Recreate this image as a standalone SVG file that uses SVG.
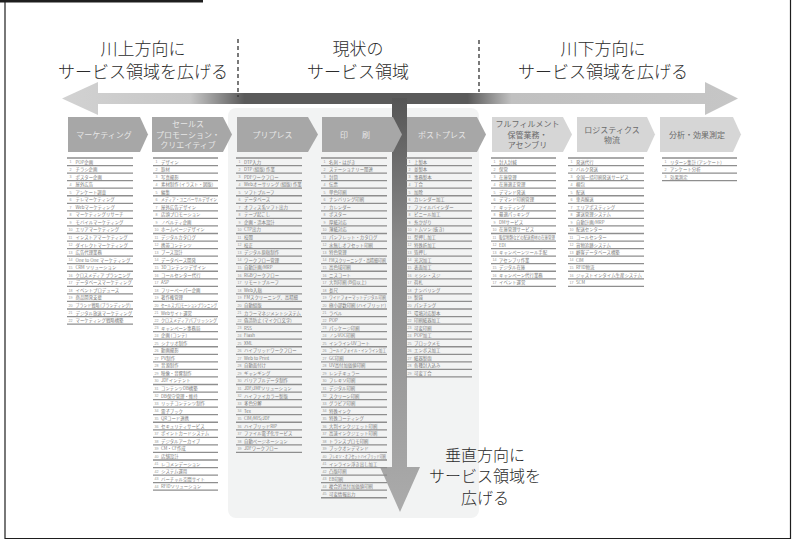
<svg xmlns="http://www.w3.org/2000/svg" width="796" height="541" viewBox="0 0 796 541">
<style>
.hd{font-family:"Noto Sans CJK JP","Noto Sans",sans-serif;font-size:17px;font-weight:300;fill:#2b2b2b;text-anchor:middle}
.hv{font-size:16px}
.chd{fill:#a7a7a7}
.chl{fill:#d6d6d6}
.ctd{font-family:"Noto Sans CJK JP","Noto Sans",sans-serif;font-size:8px;fill:#e6e6e6;text-anchor:middle}
.ctl{font-family:"Noto Sans CJK JP","Noto Sans",sans-serif;font-size:8px;fill:#6a6a6a;text-anchor:middle}
.it{font-family:"Noto Sans CJK JP","Noto Sans",sans-serif;font-size:4.4px;fill:#7a7a7a}
.nm{font-family:"Liberation Sans",sans-serif;font-size:3.6px;fill:#9a9a9a}
.rl{stroke:#8e8e8e;stroke-width:1.3;fill:none}
</style>
<defs>
<linearGradient id="hg" gradientUnits="userSpaceOnUse" x1="62" y1="0" x2="738" y2="0">
<stop offset="0" stop-color="#d2d2d2"/>
<stop offset="0.19" stop-color="#c6c6c6"/>
<stop offset="0.27" stop-color="#5a5a5a"/>
<stop offset="0.60" stop-color="#5a5a5a"/>
<stop offset="0.665" stop-color="#c0c0c0"/>
<stop offset="1" stop-color="#c6c6c6"/>
</linearGradient>
<linearGradient id="vg" gradientUnits="userSpaceOnUse" x1="0" y1="98" x2="0" y2="512">
<stop offset="0" stop-color="#555555"/>
<stop offset="0.35" stop-color="#8a8a8a"/>
<stop offset="1" stop-color="#ababab"/>
</linearGradient>
</defs>
<rect width="796" height="541" fill="#ffffff"/>
<g id="frame" fill="none" stroke="#1e1e1e">
<path d="M0 1.2H203" stroke-width="2.4"/>
<path d="M5 0V538.5H790.5V0" stroke-width="1.2"/>
</g>
<rect id="current-area" x="228" y="108" width="251" height="410" rx="8" fill="#f2f3f3"/>
<g id="connectors">
<path id="h-arrow" d="M62 98.5L98 82V93H705V82L738 98.5L705 115V104H98V115Z" fill="url(#hg)"/>
<path id="v-arrow" d="M392 98H407V467H420L400 512L380 467H392Z" fill="url(#vg)"/>
<path d="M238 39V97M479 40V92" stroke="#333" stroke-width="1.3" stroke-dasharray="4 3" fill="none"/>
</g>
<g id="label-upstream">
<text class="hd" x="143" y="54.5">川上方向に</text>
<text class="hd" x="143" y="77.5">サービス領域を広げる</text>
</g>
<g id="label-current">
<text class="hd" x="358" y="54.5">現状の</text>
<text class="hd" x="358" y="77.5">サービス領域</text>
</g>
<g id="label-downstream">
<text class="hd" x="603" y="54.5">川下方向に</text>
<text class="hd" x="603" y="77.5">サービス領域を広げる</text>
</g>
<g id="label-vertical">
<text class="hd hv" x="485" y="460.5">垂直方向に</text>
<text class="hd hv" x="485" y="482.2">サービス領域を</text>
<text class="hd hv" x="485" y="503.9">広げる</text>
</g>
<g id="col-marketing">
<path class="chd" d="M68 117H140L148 134.5L140 152H68Z"/>
<text class="ctd" x="104" y="137.5">マーケティング</text>
<path class="rl" d="M67 158h66M67 165.55h66M67 173.1h66M67 180.65h66M67 188.2h66M67 195.75h66M67 203.3h66M67 210.85h66M67 218.4h66M67 225.95h66M67 233.5h66M67 241.05h66M67 248.6h66M67 256.15h66M67 263.7h66M67 271.25h66M67 278.8h66M67 286.35h66M67 293.9h66M67 301.45h66M67 309h66M67 316.55h66M67 324.1h66"/>
<text class="nm"><tspan x="69.5" y="163.3">1</tspan><tspan x="69.5" dy="7.55">2</tspan><tspan x="69.5" dy="7.55">3</tspan><tspan x="69.5" dy="7.55">4</tspan><tspan x="69.5" dy="7.55">5</tspan><tspan x="69.5" dy="7.55">6</tspan><tspan x="69.5" dy="7.55">7</tspan><tspan x="69.5" dy="7.55">8</tspan><tspan x="69.5" dy="7.55">9</tspan><tspan x="68.5" dy="7.55">10</tspan><tspan x="68.5" dy="7.55">11</tspan><tspan x="68.5" dy="7.55">12</tspan><tspan x="68.5" dy="7.55">13</tspan><tspan x="68.5" dy="7.55">14</tspan><tspan x="68.5" dy="7.55">15</tspan><tspan x="68.5" dy="7.55">16</tspan><tspan x="68.5" dy="7.55">17</tspan><tspan x="68.5" dy="7.55">18</tspan><tspan x="68.5" dy="7.55">19</tspan><tspan x="68.5" dy="7.55">20</tspan><tspan x="68.5" dy="7.55">21</tspan><tspan x="68.5" dy="7.55">22</tspan></text>
<text class="it"><tspan x="75.5" y="163.5">POP企画</tspan><tspan x="75.5" dy="7.55">チラシ企画</tspan><tspan x="75.5" dy="7.55">ポスター企画</tspan><tspan x="75.5" dy="7.55">屋外広告</tspan><tspan x="75.5" dy="7.55">アンケート調査</tspan><tspan x="75.5" dy="7.55">テレマーケティング</tspan><tspan x="75.5" dy="7.55">Webマーケティング</tspan><tspan x="75.5" dy="7.55">マーケティングリサーチ</tspan><tspan x="75.5" dy="7.55">モバイルマーケティング</tspan><tspan x="75.5" dy="7.55">エリアマーケティング</tspan><tspan x="75.5" dy="7.55">インストアマーケティング</tspan><tspan x="75.5" dy="7.55">ダイレクトマーケティング</tspan><tspan x="75.5" dy="7.55">広告代理業務</tspan><tspan x="75.5" dy="7.55" textLength="55" lengthAdjust="spacingAndGlyphs">One to One マーケティング</tspan><tspan x="75.5" dy="7.55">CRM ソリューション</tspan><tspan x="75.5" dy="7.55" textLength="55" lengthAdjust="spacingAndGlyphs">クロスメディア プランニング</tspan><tspan x="75.5" dy="7.55">データベースマーケティング</tspan><tspan x="75.5" dy="7.55">イベントプロデュース</tspan><tspan x="75.5" dy="7.55">商品開発支援</tspan><tspan x="75.5" dy="7.55" textLength="55" lengthAdjust="spacingAndGlyphs">ブランド戦略 (ブランディング)</tspan><tspan x="75.5" dy="7.55">デジタル放送マーケティング</tspan><tspan x="75.5" dy="7.55">マーケティング戦略構築</tspan></text>
</g>
<g id="col-sales-promotion">
<path class="chd" d="M152 117H223L232 134.5L223 152H152Z"/>
<text class="ctd" x="188" y="127">セールス</text>
<text class="ctd" x="188" y="137.5">プロモーション・</text>
<text class="ctd" x="188" y="148">クリエイティブ</text>
<path class="rl" d="M153 158h65M153 165.55h65M153 173.1h65M153 180.65h65M153 188.2h65M153 195.75h65M153 203.3h65M153 210.85h65M153 218.4h65M153 225.95h65M153 233.5h65M153 241.05h65M153 248.6h65M153 256.15h65M153 263.7h65M153 271.25h65M153 278.8h65M153 286.35h65M153 293.9h65M153 301.45h65M153 309h65M153 316.55h65M153 324.1h65M153 331.65h65M153 339.2h65M153 346.75h65M153 354.3h65M153 361.85h65M153 369.4h65M153 376.95h65M153 384.5h65M153 392.05h65M153 399.6h65M153 407.15h65M153 414.7h65M153 422.25h65M153 429.8h65M153 437.35h65M153 444.9h65M153 452.45h65M153 460h65M153 467.55h65M153 475.1h65M153 482.65h65M153 490.2h65"/>
<text class="nm"><tspan x="155.5" y="163.3">1</tspan><tspan x="155.5" dy="7.55">2</tspan><tspan x="155.5" dy="7.55">3</tspan><tspan x="155.5" dy="7.55">4</tspan><tspan x="155.5" dy="7.55">5</tspan><tspan x="155.5" dy="7.55">6</tspan><tspan x="155.5" dy="7.55">7</tspan><tspan x="155.5" dy="7.55">8</tspan><tspan x="155.5" dy="7.55">9</tspan><tspan x="154.5" dy="7.55">10</tspan><tspan x="154.5" dy="7.55">11</tspan><tspan x="154.5" dy="7.55">12</tspan><tspan x="154.5" dy="7.55">13</tspan><tspan x="154.5" dy="7.55">14</tspan><tspan x="154.5" dy="7.55">15</tspan><tspan x="154.5" dy="7.55">16</tspan><tspan x="154.5" dy="7.55">17</tspan><tspan x="154.5" dy="7.55">18</tspan><tspan x="154.5" dy="7.55">19</tspan><tspan x="154.5" dy="7.55">20</tspan><tspan x="154.5" dy="7.55">21</tspan><tspan x="154.5" dy="7.55">22</tspan><tspan x="154.5" dy="7.55">23</tspan><tspan x="154.5" dy="7.55">24</tspan><tspan x="154.5" dy="7.55">25</tspan><tspan x="154.5" dy="7.55">26</tspan><tspan x="154.5" dy="7.55">27</tspan><tspan x="154.5" dy="7.55">28</tspan><tspan x="154.5" dy="7.55">29</tspan><tspan x="154.5" dy="7.55">30</tspan><tspan x="154.5" dy="7.55">31</tspan><tspan x="154.5" dy="7.55">32</tspan><tspan x="154.5" dy="7.55">33</tspan><tspan x="154.5" dy="7.55">34</tspan><tspan x="154.5" dy="7.55">35</tspan><tspan x="154.5" dy="7.55">36</tspan><tspan x="154.5" dy="7.55">37</tspan><tspan x="154.5" dy="7.55">38</tspan><tspan x="154.5" dy="7.55">39</tspan><tspan x="154.5" dy="7.55">40</tspan><tspan x="154.5" dy="7.55">41</tspan><tspan x="154.5" dy="7.55">42</tspan><tspan x="154.5" dy="7.55">43</tspan><tspan x="154.5" dy="7.55">44</tspan></text>
<text class="it"><tspan x="161" y="163.5">デザイン</tspan><tspan x="161" dy="7.55">取材</tspan><tspan x="161" dy="7.55">写真撮影</tspan><tspan x="161" dy="7.55">素材制作 (イラスト・図版)</tspan><tspan x="161" dy="7.55">編集</tspan><tspan x="161" dy="7.55" textLength="56" lengthAdjust="spacingAndGlyphs">メディア・ユニバーサルデザイン</tspan><tspan x="161" dy="7.55">屋外広告デザイン</tspan><tspan x="161" dy="7.55">店頭プロモーション</tspan><tspan x="161" dy="7.55">ノベルティ企画</tspan><tspan x="161" dy="7.55">ホームページデザイン</tspan><tspan x="161" dy="7.55">デジタルカタログ</tspan><tspan x="161" dy="7.55">携帯コンテンツ</tspan><tspan x="161" dy="7.55">ブース設計</tspan><tspan x="161" dy="7.55">データベース開発</tspan><tspan x="161" dy="7.55">3Dコンテンツデザイン</tspan><tspan x="161" dy="7.55">コールセンター代行</tspan><tspan x="161" dy="7.55">ASP</tspan><tspan x="161" dy="7.55">フリーペーパー企画</tspan><tspan x="161" dy="7.55">著作権管理</tspan><tspan x="161" dy="7.55" textLength="56" lengthAdjust="spacingAndGlyphs">セールスプロモーションプランニング</tspan><tspan x="161" dy="7.55">Webサイト運営</tspan><tspan x="161" dy="7.55" textLength="56" lengthAdjust="spacingAndGlyphs">クロスメディアパブリッシング</tspan><tspan x="161" dy="7.55">キャンペーン事務局</tspan><tspan x="161" dy="7.55">企画 (コンテ)</tspan><tspan x="161" dy="7.55">シナリオ制作</tspan><tspan x="161" dy="7.55">動画撮影</tspan><tspan x="161" dy="7.55">PV制作</tspan><tspan x="161" dy="7.55">音源制作</tspan><tspan x="161" dy="7.55">映像・音響制作</tspan><tspan x="161" dy="7.55">JDFインテント</tspan><tspan x="161" dy="7.55">コンテンツDB構築</tspan><tspan x="161" dy="7.55">DB保守管理・維持</tspan><tspan x="161" dy="7.55">リッチコンテンツ制作</tspan><tspan x="161" dy="7.55">電子ブック</tspan><tspan x="161" dy="7.55">QRコード連携</tspan><tspan x="161" dy="7.55">セキュリティサービス</tspan><tspan x="161" dy="7.55">ポイントカードシステム</tspan><tspan x="161" dy="7.55">デジタルアーカイブ</tspan><tspan x="161" dy="7.55">CM・CF作成</tspan><tspan x="161" dy="7.55">店舗設計</tspan><tspan x="161" dy="7.55">レコメンデーション</tspan><tspan x="161" dy="7.55">システム運用</tspan><tspan x="161" dy="7.55">バーチャル空間サイト</tspan><tspan x="161" dy="7.55">RFIDソリューション</tspan></text>
</g>
<g id="col-prepress">
<path class="chd" d="M237 117H308L318 134.5L308 152H237Z"/>
<text class="ctd" x="272.5" y="137.5">プリプレス</text>
<path class="rl" d="M236 158h66M236 165.55h66M236 173.1h66M236 180.65h66M236 188.2h66M236 195.75h66M236 203.3h66M236 210.85h66M236 218.4h66M236 225.95h66M236 233.5h66M236 241.05h66M236 248.6h66M236 256.15h66M236 263.7h66M236 271.25h66M236 278.8h66M236 286.35h66M236 293.9h66M236 301.45h66M236 309h66M236 316.55h66M236 324.1h66M236 331.65h66M236 339.2h66M236 346.75h66M236 354.3h66M236 361.85h66M236 369.4h66M236 376.95h66M236 384.5h66M236 392.05h66M236 399.6h66M236 407.15h66M236 414.7h66M236 422.25h66M236 429.8h66M236 437.35h66M236 444.9h66M236 452.45h66"/>
<text class="nm"><tspan x="238.5" y="163.3">1</tspan><tspan x="238.5" dy="7.55">2</tspan><tspan x="238.5" dy="7.55">3</tspan><tspan x="238.5" dy="7.55">4</tspan><tspan x="238.5" dy="7.55">5</tspan><tspan x="238.5" dy="7.55">6</tspan><tspan x="238.5" dy="7.55">7</tspan><tspan x="238.5" dy="7.55">8</tspan><tspan x="238.5" dy="7.55">9</tspan><tspan x="237.5" dy="7.55">10</tspan><tspan x="237.5" dy="7.55">11</tspan><tspan x="237.5" dy="7.55">12</tspan><tspan x="237.5" dy="7.55">13</tspan><tspan x="237.5" dy="7.55">14</tspan><tspan x="237.5" dy="7.55">15</tspan><tspan x="237.5" dy="7.55">16</tspan><tspan x="237.5" dy="7.55">17</tspan><tspan x="237.5" dy="7.55">18</tspan><tspan x="237.5" dy="7.55">19</tspan><tspan x="237.5" dy="7.55">20</tspan><tspan x="237.5" dy="7.55">21</tspan><tspan x="237.5" dy="7.55">22</tspan><tspan x="237.5" dy="7.55">23</tspan><tspan x="237.5" dy="7.55">24</tspan><tspan x="237.5" dy="7.55">25</tspan><tspan x="237.5" dy="7.55">26</tspan><tspan x="237.5" dy="7.55">27</tspan><tspan x="237.5" dy="7.55">28</tspan><tspan x="237.5" dy="7.55">29</tspan><tspan x="237.5" dy="7.55">30</tspan><tspan x="237.5" dy="7.55">31</tspan><tspan x="237.5" dy="7.55">32</tspan><tspan x="237.5" dy="7.55">33</tspan><tspan x="237.5" dy="7.55">34</tspan><tspan x="237.5" dy="7.55">35</tspan><tspan x="237.5" dy="7.55">36</tspan><tspan x="237.5" dy="7.55">37</tspan><tspan x="237.5" dy="7.55">38</tspan><tspan x="237.5" dy="7.55">39</tspan></text>
<text class="it"><tspan x="244" y="163.5">DTP入力</tspan><tspan x="244" dy="7.55">DTP (組版) 作業</tspan><tspan x="244" dy="7.55">PDFワークフロー</tspan><tspan x="244" dy="7.55">Webオーサリング (組版) 作業</tspan><tspan x="244" dy="7.55">ソフトプルーフ</tspan><tspan x="244" dy="7.55">データベース</tspan><tspan x="244" dy="7.55">オフィス系ソフト出力</tspan><tspan x="244" dy="7.55">テープ起こし</tspan><tspan x="244" dy="7.55">企画・造本設計</tspan><tspan x="244" dy="7.55">CTP出力</tspan><tspan x="244" dy="7.55">校閲</tspan><tspan x="244" dy="7.55">校正</tspan><tspan x="244" dy="7.55">デジタル原稿制作</tspan><tspan x="244" dy="7.55">ワークフロー管理</tspan><tspan x="244" dy="7.55">自動計画/MRP</tspan><tspan x="244" dy="7.55">RGBワークフロー</tspan><tspan x="244" dy="7.55">リモートプルーフ</tspan><tspan x="244" dy="7.55">Web入稿</tspan><tspan x="244" dy="7.55">FMスクリーニング、高精細</tspan><tspan x="244" dy="7.55">自動組版</tspan><tspan x="244" dy="7.55">カラーマネジメントシステム</tspan><tspan x="244" dy="7.55">偽造防止 (マイクロ文字)</tspan><tspan x="244" dy="7.55">RSS</tspan><tspan x="244" dy="7.55">Flash</tspan><tspan x="244" dy="7.55">XML</tspan><tspan x="244" dy="7.55">ハイブリッドワークフロー</tspan><tspan x="244" dy="7.55">Web to Print</tspan><tspan x="244" dy="7.55">自動面付け</tspan><tspan x="244" dy="7.55">ギャンギング</tspan><tspan x="244" dy="7.55">バリアブルデータ制作</tspan><tspan x="244" dy="7.55">JDF/JMFソリューション</tspan><tspan x="244" dy="7.55">ハイファイカラー製版</tspan><tspan x="244" dy="7.55">多色分解</tspan><tspan x="244" dy="7.55">Tex</tspan><tspan x="244" dy="7.55">CIM/MIS/JDF</tspan><tspan x="244" dy="7.55">ハイブリッドRIP</tspan><tspan x="244" dy="7.55">ファイル電子化サービス</tspan><tspan x="244" dy="7.55">自動ページネーション</tspan><tspan x="244" dy="7.55">JDFワークフロー</tspan></text>
</g>
<g id="col-printing">
<path class="chd" d="M322 117H393L402 134.5L393 152H322Z"/>
<text class="ctd" x="344" y="137.5">印</text>
<text class="ctd" x="366" y="137.5">刷</text>
<path class="rl" d="M321 158h66M321 165.55h66M321 173.1h66M321 180.65h66M321 188.2h66M321 195.75h66M321 203.3h66M321 210.85h66M321 218.4h66M321 225.95h66M321 233.5h66M321 241.05h66M321 248.6h66M321 256.15h66M321 263.7h66M321 271.25h66M321 278.8h66M321 286.35h66M321 293.9h66M321 301.45h66M321 309h66M321 316.55h66M321 324.1h66M321 331.65h66M321 339.2h66M321 346.75h66M321 354.3h66M321 361.85h66M321 369.4h66M321 376.95h66M321 384.5h66M321 392.05h66M321 399.6h66M321 407.15h66M321 414.7h66M321 422.25h66M321 429.8h66M321 437.35h66M321 444.9h66M321 452.45h66M321 460h66M321 467.55h66M321 475.1h66M321 482.65h66M321 490.2h66M321 497.75h66"/>
<text class="nm"><tspan x="323.5" y="163.3">1</tspan><tspan x="323.5" dy="7.55">2</tspan><tspan x="323.5" dy="7.55">3</tspan><tspan x="323.5" dy="7.55">4</tspan><tspan x="323.5" dy="7.55">5</tspan><tspan x="323.5" dy="7.55">6</tspan><tspan x="323.5" dy="7.55">7</tspan><tspan x="323.5" dy="7.55">8</tspan><tspan x="323.5" dy="7.55">9</tspan><tspan x="322.5" dy="7.55">10</tspan><tspan x="322.5" dy="7.55">11</tspan><tspan x="322.5" dy="7.55">12</tspan><tspan x="322.5" dy="7.55">13</tspan><tspan x="322.5" dy="7.55">14</tspan><tspan x="322.5" dy="7.55">15</tspan><tspan x="322.5" dy="7.55">16</tspan><tspan x="322.5" dy="7.55">17</tspan><tspan x="322.5" dy="7.55">18</tspan><tspan x="322.5" dy="7.55">19</tspan><tspan x="322.5" dy="7.55">20</tspan><tspan x="322.5" dy="7.55">21</tspan><tspan x="322.5" dy="7.55">22</tspan><tspan x="322.5" dy="7.55">23</tspan><tspan x="322.5" dy="7.55">24</tspan><tspan x="322.5" dy="7.55">25</tspan><tspan x="322.5" dy="7.55">26</tspan><tspan x="322.5" dy="7.55">27</tspan><tspan x="322.5" dy="7.55">28</tspan><tspan x="322.5" dy="7.55">29</tspan><tspan x="322.5" dy="7.55">30</tspan><tspan x="322.5" dy="7.55">31</tspan><tspan x="322.5" dy="7.55">32</tspan><tspan x="322.5" dy="7.55">33</tspan><tspan x="322.5" dy="7.55">34</tspan><tspan x="322.5" dy="7.55">35</tspan><tspan x="322.5" dy="7.55">36</tspan><tspan x="322.5" dy="7.55">37</tspan><tspan x="322.5" dy="7.55">38</tspan><tspan x="322.5" dy="7.55">39</tspan><tspan x="322.5" dy="7.55">40</tspan><tspan x="322.5" dy="7.55">41</tspan><tspan x="322.5" dy="7.55">42</tspan><tspan x="322.5" dy="7.55">43</tspan><tspan x="322.5" dy="7.55">44</tspan><tspan x="322.5" dy="7.55">45</tspan></text>
<text class="it"><tspan x="329" y="163.5">名刺・はがき</tspan><tspan x="329" dy="7.55">ステーショナリー関連</tspan><tspan x="329" dy="7.55">封筒</tspan><tspan x="329" dy="7.55">伝票</tspan><tspan x="329" dy="7.55">単色印刷</tspan><tspan x="329" dy="7.55">ナンバリング印刷</tspan><tspan x="329" dy="7.55">カレンダー</tspan><tspan x="329" dy="7.55">ポスター</tspan><tspan x="329" dy="7.55">厚紙対応</tspan><tspan x="329" dy="7.55">薄紙対応</tspan><tspan x="329" dy="7.55">パンフレット・カタログ</tspan><tspan x="329" dy="7.55">水無しオフセット印刷</tspan><tspan x="329" dy="7.55">特色管理</tspan><tspan x="329" dy="7.55" textLength="57" lengthAdjust="spacingAndGlyphs">FMスクリーニング・高精細印刷</tspan><tspan x="329" dy="7.55">高色域印刷</tspan><tspan x="329" dy="7.55">ニスコート</tspan><tspan x="329" dy="7.55">大判印刷 (B倍以上)</tspan><tspan x="329" dy="7.55">長尺</tspan><tspan x="329" dy="7.55" textLength="57" lengthAdjust="spacingAndGlyphs">ワイドフォーマットデジタル印刷</tspan><tspan x="329" dy="7.55" textLength="57" lengthAdjust="spacingAndGlyphs">極小部数印刷 (ハイブリッド)</tspan><tspan x="329" dy="7.55">ラベル</tspan><tspan x="329" dy="7.55">POP</tspan><tspan x="329" dy="7.55">パッケージ印刷</tspan><tspan x="329" dy="7.55">ノンVOC印刷</tspan><tspan x="329" dy="7.55">インラインUVコート</tspan><tspan x="329" dy="7.55" textLength="57" lengthAdjust="spacingAndGlyphs">コールドフォイル・インライン加工</tspan><tspan x="329" dy="7.55">GC印刷</tspan><tspan x="329" dy="7.55">UV高付加価値印刷</tspan><tspan x="329" dy="7.55">レンチキュラー</tspan><tspan x="329" dy="7.55">フレキソ印刷</tspan><tspan x="329" dy="7.55">デジタル印刷</tspan><tspan x="329" dy="7.55">スクリーン印刷</tspan><tspan x="329" dy="7.55">グラビア印刷</tspan><tspan x="329" dy="7.55">特殊インク</tspan><tspan x="329" dy="7.55">特殊コーティング</tspan><tspan x="329" dy="7.55">大判インクジェット印刷</tspan><tspan x="329" dy="7.55">高速インクジェット印刷</tspan><tspan x="329" dy="7.55">トランスプロモ印刷</tspan><tspan x="329" dy="7.55">ブックオンデマンド</tspan><tspan x="329" dy="7.55" textLength="57" lengthAdjust="spacingAndGlyphs">フレキソ・オフセットハイブリッド印刷</tspan><tspan x="329" dy="7.55">インライン浮き出し加工</tspan><tspan x="329" dy="7.55">凸版印刷</tspan><tspan x="329" dy="7.55">EB印刷</tspan><tspan x="329" dy="7.55">複合的高付加価値印刷</tspan><tspan x="329" dy="7.55">可変情報出力</tspan></text>
</g>
<g id="col-postpress">
<path class="chd" d="M407 117H477L486 134.5L477 152H407Z"/>
<text class="ctd" x="442" y="137.5">ポストプレス</text>
<path class="rl" d="M406 158h66M406 165.55h66M406 173.1h66M406 180.65h66M406 188.2h66M406 195.75h66M406 203.3h66M406 210.85h66M406 218.4h66M406 225.95h66M406 233.5h66M406 241.05h66M406 248.6h66M406 256.15h66M406 263.7h66M406 271.25h66M406 278.8h66M406 286.35h66M406 293.9h66M406 301.45h66M406 309h66M406 316.55h66M406 324.1h66M406 331.65h66M406 339.2h66M406 346.75h66M406 354.3h66M406 361.85h66M406 369.4h66M406 376.95h66"/>
<text class="nm"><tspan x="408.5" y="163.3">1</tspan><tspan x="408.5" dy="7.55">2</tspan><tspan x="408.5" dy="7.55">3</tspan><tspan x="408.5" dy="7.55">4</tspan><tspan x="408.5" dy="7.55">5</tspan><tspan x="408.5" dy="7.55">6</tspan><tspan x="408.5" dy="7.55">7</tspan><tspan x="408.5" dy="7.55">8</tspan><tspan x="408.5" dy="7.55">9</tspan><tspan x="407.5" dy="7.55">10</tspan><tspan x="407.5" dy="7.55">11</tspan><tspan x="407.5" dy="7.55">12</tspan><tspan x="407.5" dy="7.55">13</tspan><tspan x="407.5" dy="7.55">14</tspan><tspan x="407.5" dy="7.55">15</tspan><tspan x="407.5" dy="7.55">16</tspan><tspan x="407.5" dy="7.55">17</tspan><tspan x="407.5" dy="7.55">18</tspan><tspan x="407.5" dy="7.55">19</tspan><tspan x="407.5" dy="7.55">20</tspan><tspan x="407.5" dy="7.55">21</tspan><tspan x="407.5" dy="7.55">22</tspan><tspan x="407.5" dy="7.55">23</tspan><tspan x="407.5" dy="7.55">24</tspan><tspan x="407.5" dy="7.55">25</tspan><tspan x="407.5" dy="7.55">26</tspan><tspan x="407.5" dy="7.55">27</tspan><tspan x="407.5" dy="7.55">28</tspan><tspan x="407.5" dy="7.55">29</tspan></text>
<text class="it"><tspan x="414" y="163.5">上製本</tspan><tspan x="414" dy="7.55">並製本</tspan><tspan x="414" dy="7.55">事務製本</tspan><tspan x="414" dy="7.55">丁合</tspan><tspan x="414" dy="7.55">加除</tspan><tspan x="414" dy="7.55">カレンダー加工</tspan><tspan x="414" dy="7.55">ファイルバインダー</tspan><tspan x="414" dy="7.55">ビニール加工</tspan><tspan x="414" dy="7.55">糸かがり</tspan><tspan x="414" dy="7.55">トムソン (抜き)</tspan><tspan x="414" dy="7.55">型押し加工</tspan><tspan x="414" dy="7.55">特殊折加工</tspan><tspan x="414" dy="7.55">箔押し</tspan><tspan x="414" dy="7.55">光沢加工</tspan><tspan x="414" dy="7.55">表面加工</tspan><tspan x="414" dy="7.55">ミシン・スジ</tspan><tspan x="414" dy="7.55">荷札</tspan><tspan x="414" dy="7.55">ナンバリング</tspan><tspan x="414" dy="7.55">製袋</tspan><tspan x="414" dy="7.55">パンチング</tspan><tspan x="414" dy="7.55">環境対応製本</tspan><tspan x="414" dy="7.55">印刷紙器加工</tspan><tspan x="414" dy="7.55">可変印刷</tspan><tspan x="414" dy="7.55">POP加工</tspan><tspan x="414" dy="7.55">ブロックメモ</tspan><tspan x="414" dy="7.55">エンボス加工</tspan><tspan x="414" dy="7.55">紙器製函</tspan><tspan x="414" dy="7.55">各種封入込み</tspan><tspan x="414" dy="7.55">可変丁合</tspan></text>
</g>
<g id="col-fulfillment">
<path class="chl" d="M492 117H563L572 134.5L563 152H492Z"/>
<text class="ctl" x="527.5" y="127">フルフィルメント</text>
<text class="ctl" x="527.5" y="137.5">保管業務・</text>
<text class="ctl" x="527.5" y="148">アセンブリ</text>
<path class="rl" d="M491 158h65M491 165.55h65M491 173.1h65M491 180.65h65M491 188.2h65M491 195.75h65M491 203.3h65M491 210.85h65M491 218.4h65M491 225.95h65M491 233.5h65M491 241.05h65M491 248.6h65M491 256.15h65M491 263.7h65M491 271.25h65M491 278.8h65M491 286.35h65"/>
<text class="nm"><tspan x="493.5" y="163.3">1</tspan><tspan x="493.5" dy="7.55">2</tspan><tspan x="493.5" dy="7.55">3</tspan><tspan x="493.5" dy="7.55">4</tspan><tspan x="493.5" dy="7.55">5</tspan><tspan x="493.5" dy="7.55">6</tspan><tspan x="493.5" dy="7.55">7</tspan><tspan x="493.5" dy="7.55">8</tspan><tspan x="493.5" dy="7.55">9</tspan><tspan x="492.5" dy="7.55">10</tspan><tspan x="492.5" dy="7.55">11</tspan><tspan x="492.5" dy="7.55">12</tspan><tspan x="492.5" dy="7.55">13</tspan><tspan x="492.5" dy="7.55">14</tspan><tspan x="492.5" dy="7.55">15</tspan><tspan x="492.5" dy="7.55">16</tspan><tspan x="492.5" dy="7.55">17</tspan></text>
<text class="it"><tspan x="499" y="163.5">封入封緘</tspan><tspan x="499" dy="7.55">保管</tspan><tspan x="499" dy="7.55">在庫管理</tspan><tspan x="499" dy="7.55">在庫適正管理</tspan><tspan x="499" dy="7.55">デマンド発送</tspan><tspan x="499" dy="7.55">デマンド印刷管理</tspan><tspan x="499" dy="7.55">キッティング</tspan><tspan x="499" dy="7.55">最適パッキング</tspan><tspan x="499" dy="7.55">DMサービス</tspan><tspan x="499" dy="7.55">在庫管理サービス</tspan><tspan x="499" dy="7.55" textLength="56" lengthAdjust="spacingAndGlyphs">販促物類などの配送資材の在庫管理</tspan><tspan x="499" dy="7.55">EDI</tspan><tspan x="499" dy="7.55">キャンペーンツール手配</tspan><tspan x="499" dy="7.55">アセンブリ作業</tspan><tspan x="499" dy="7.55">デジタル在庫</tspan><tspan x="499" dy="7.55">キャンペーン代行業務</tspan><tspan x="499" dy="7.55">イベント運営</tspan></text>
</g>
<g id="col-logistics">
<path class="chl" d="M577 117H647L655 134.5L647 152H577Z"/>
<text class="ctl" x="612" y="132.5">ロジスティクス</text>
<text class="ctl" x="612" y="142.5">物流</text>
<path class="rl" d="M568 158h76M568 165.55h76M568 173.1h76M568 180.65h76M568 188.2h76M568 195.75h76M568 203.3h76M568 210.85h76M568 218.4h76M568 225.95h76M568 233.5h76M568 241.05h76M568 248.6h76M568 256.15h76M568 263.7h76M568 271.25h76M568 278.8h76M568 286.35h76"/>
<text class="nm"><tspan x="570.5" y="163.3">1</tspan><tspan x="570.5" dy="7.55">2</tspan><tspan x="570.5" dy="7.55">3</tspan><tspan x="570.5" dy="7.55">4</tspan><tspan x="570.5" dy="7.55">5</tspan><tspan x="570.5" dy="7.55">6</tspan><tspan x="570.5" dy="7.55">7</tspan><tspan x="570.5" dy="7.55">8</tspan><tspan x="570.5" dy="7.55">9</tspan><tspan x="569.5" dy="7.55">10</tspan><tspan x="569.5" dy="7.55">11</tspan><tspan x="569.5" dy="7.55">12</tspan><tspan x="569.5" dy="7.55">13</tspan><tspan x="569.5" dy="7.55">14</tspan><tspan x="569.5" dy="7.55">15</tspan><tspan x="569.5" dy="7.55">16</tspan><tspan x="569.5" dy="7.55">17</tspan></text>
<text class="it"><tspan x="576" y="163.5">発送代行</tspan><tspan x="576" dy="7.55">バルク発送</tspan><tspan x="576" dy="7.55">全国一括印刷発送サービス</tspan><tspan x="576" dy="7.55">梱包</tspan><tspan x="576" dy="7.55">配送</tspan><tspan x="576" dy="7.55">車両輸送</tspan><tspan x="576" dy="7.55">エリアポスティング</tspan><tspan x="576" dy="7.55">運送管理システム</tspan><tspan x="576" dy="7.55">自動計画/MRP</tspan><tspan x="576" dy="7.55">配送センター</tspan><tspan x="576" dy="7.55">コールセンター</tspan><tspan x="576" dy="7.55">貨物追跡システム</tspan><tspan x="576" dy="7.55">顧客データベース構築</tspan><tspan x="576" dy="7.55">CIM</tspan><tspan x="576" dy="7.55">RFID物流</tspan><tspan x="576" dy="7.55" textLength="66" lengthAdjust="spacingAndGlyphs">ジャストインタイム生産システム</tspan><tspan x="576" dy="7.55">SCM</tspan></text>
</g>
<g id="col-analysis">
<path class="chl" d="M660 117H733L741 134.5L733 152H660Z"/>
<text class="ctl" x="697" y="137.5">分析・効果測定</text>
<path class="rl" d="M662 158h75M662 165.55h75M662 173.1h75M662 180.65h75"/>
<text class="nm"><tspan x="664.5" y="163.3">1</tspan><tspan x="664.5" dy="7.55">2</tspan><tspan x="664.5" dy="7.55">3</tspan></text>
<text class="it"><tspan x="670" y="163.5">リターン集計 (アンケート)</tspan><tspan x="670" dy="7.55">アンケート分析</tspan><tspan x="670" dy="7.55">効果測定</tspan></text>
</g>
</svg>
